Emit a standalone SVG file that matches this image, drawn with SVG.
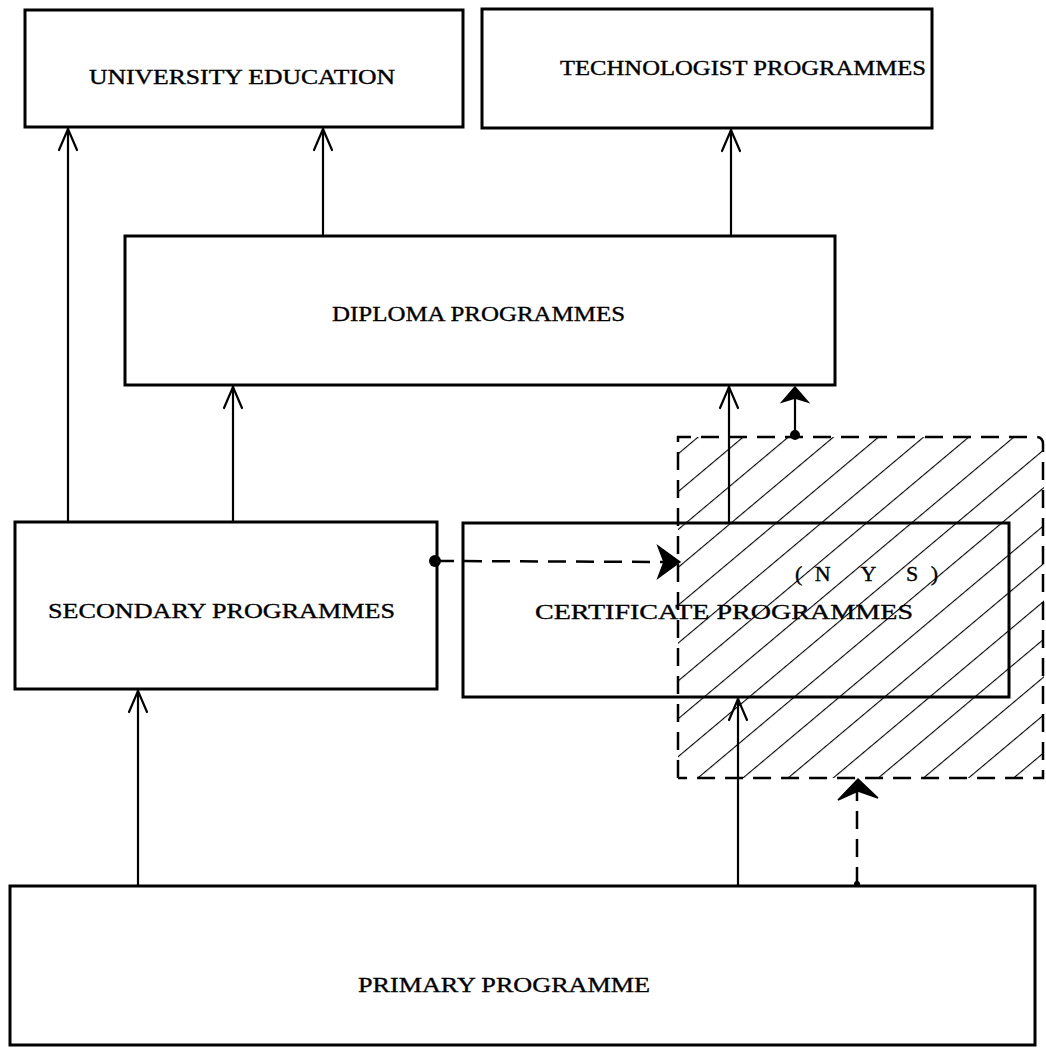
<svg xmlns="http://www.w3.org/2000/svg" width="1046" height="1053" viewBox="0 0 1046 1053">
<style>
.box{fill:none;stroke:#000;stroke-width:3}
.lbl{font-family:"Liberation Serif",serif;font-size:20px;fill:#000;stroke:#000;stroke-width:0.35}
.big{font-size:22px}
.ln{stroke:#000;stroke-width:2.2;fill:none}
.dash{stroke:#000;stroke-width:2.5;fill:none;stroke-dasharray:18 10}
.head{stroke:#000;stroke-width:2.2;fill:none;stroke-linecap:round}
.fhead{fill:#000;stroke:#000;stroke-width:1.5}
</style>
<defs>
<pattern id="hatch" patternUnits="userSpaceOnUse" width="29" height="20" patternTransform="rotate(50)">
<line x1="0" y1="0" x2="0" y2="20" stroke="#000" stroke-width="2.2"/>
</pattern>
<clipPath id="hclip"><rect x="678" y="437" width="366" height="341"/></clipPath>
</defs>
<rect width="1046" height="1053" fill="#fff"/>

<g id="nys-hatch">
<rect x="678" y="437" width="366" height="341" fill="url(#hatch)" clip-path="url(#hclip)"/>
<path d="M678,778 L678,437 L1036,437 Q1043,437 1043,444 L1043,778 L678,778" class="dash"/>
<text class="lbl big" x="795" y="581" textLength="143" lengthAdjust="spacing">(N Y S)</text>
</g>

<g id="university">
<rect class="box" x="25" y="10" width="438" height="117"/>
<text class="lbl" x="89" y="84" textLength="306" lengthAdjust="spacingAndGlyphs">UNIVERSITY EDUCATION</text>
</g>
<g id="technologist">
<rect class="box" x="482" y="9" width="450" height="119"/>
<text class="lbl" x="560" y="75" textLength="366" lengthAdjust="spacingAndGlyphs">TECHNOLOGIST PROGRAMMES</text>
</g>
<g id="diploma">
<rect class="box" x="125" y="236" width="710" height="149"/>
<text class="lbl big" x="332" y="321" textLength="293" lengthAdjust="spacingAndGlyphs">DIPLOMA PROGRAMMES</text>
</g>
<g id="secondary">
<rect class="box" x="15" y="522" width="422" height="167"/>
<text class="lbl big" x="48" y="618" textLength="347" lengthAdjust="spacingAndGlyphs">SECONDARY PROGRAMMES</text>
</g>
<g id="certificate">
<rect class="box" x="463" y="523" width="546" height="174"/>
<text class="lbl big" x="535" y="619" textLength="378" lengthAdjust="spacingAndGlyphs">CERTIFICATE PROGRAMMES</text>
</g>
<g id="primary">
<rect class="box" x="10" y="886" width="1025" height="159"/>
<text class="lbl big" x="358" y="992" textLength="292" lengthAdjust="spacingAndGlyphs">PRIMARY PROGRAMME</text>
</g>

<g id="connectors">
<line class="ln" x1="68" y1="522" x2="68" y2="128"/>
<path class="head" d="M59,150 L68,129 L77,150"/>
<line class="ln" x1="323" y1="236" x2="323" y2="128"/>
<path class="head" d="M314,150 L323,129 L332,150"/>
<line class="ln" x1="731" y1="236" x2="731" y2="129"/>
<path class="head" d="M722,151 L731,130 L740,151"/>
<line class="ln" x1="233" y1="522" x2="233" y2="386"/>
<path class="head" d="M224,408 L233,387 L242,408"/>
<line class="ln" x1="729" y1="522" x2="729" y2="386"/>
<path class="head" d="M720,408 L729,387 L738,408"/>
<line class="ln" x1="138" y1="886" x2="138" y2="690"/>
<path class="head" d="M129,712 L138,691 L147,712"/>
<line class="ln" x1="738" y1="886" x2="738" y2="698"/>
<path class="head" d="M729,720 L738,699 L747,720"/>

<line class="ln" x1="795" y1="436" x2="795" y2="396"/>
<circle cx="795" cy="435" r="5"/>
<path class="fhead" d="M795,387 L808,402 L795,398 L782,402 Z"/>

<line class="dash" x1="436" y1="561" x2="672" y2="562"/>
<circle cx="435" cy="561" r="6"/>
<path class="fhead" d="M680,562 L658,578 L664,562 L658,546 Z"/>

<line class="dash" x1="857" y1="885" x2="857" y2="790"/>
<circle cx="857" cy="884" r="3"/>
<path class="fhead" d="M858,779 L878,798 L858,791 L838,800 Z"/>
</g>
</svg>
